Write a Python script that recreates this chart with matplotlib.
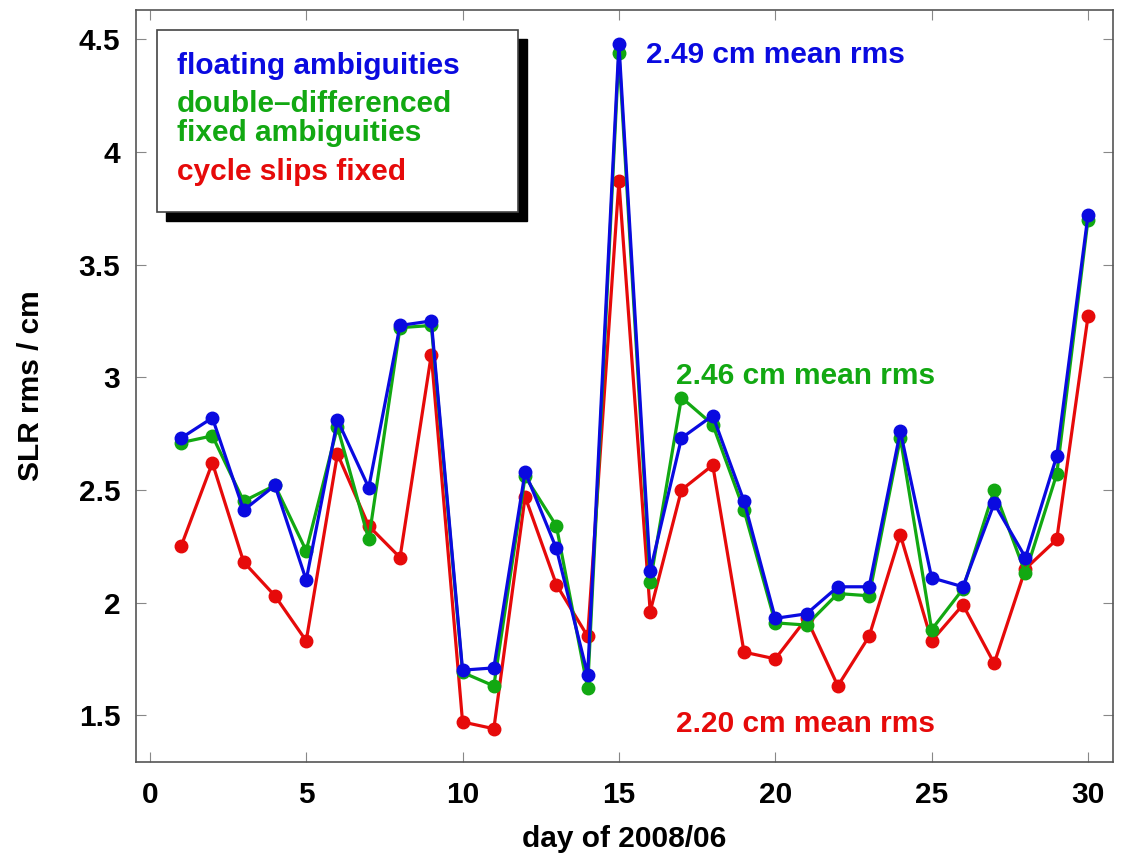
"""SLR rms per day, June 2008, for three ambiguity handling strategies."""

import matplotlib

matplotlib.use("Agg")
import matplotlib.pyplot as plt
from matplotlib.patches import Rectangle

plt.rcParams["font.family"] = ["Liberation Sans", "DejaVu Sans"]
plt.rcParams["font.weight"] = "bold"

days = list(range(1, 31))

rms_float = [2.73, 2.82, 2.41, 2.52, 2.10, 2.81, 2.51, 3.23, 3.25, 1.70,
             1.71, 2.58, 2.24, 1.68, 4.48, 2.14, 2.73, 2.83, 2.45, 1.93,
             1.95, 2.07, 2.07, 2.76, 2.11, 2.07, 2.44, 2.20, 2.65, 3.72]
rms_dd_fixed = [2.71, 2.74, 2.45, 2.52, 2.23, 2.78, 2.28, 3.22, 3.23, 1.69,
                1.63, 2.56, 2.34, 1.62, 4.44, 2.09, 2.91, 2.79, 2.41, 1.91,
                1.90, 2.04, 2.03, 2.73, 1.88, 2.06, 2.50, 2.13, 2.57, 3.70]
rms_slips_fixed = [2.25, 2.62, 2.18, 2.03, 1.83, 2.66, 2.34, 2.20, 3.10, 1.47,
                   1.44, 2.47, 2.08, 1.85, 3.87, 1.96, 2.50, 2.61, 1.78, 1.75,
                   1.93, 1.63, 1.85, 2.30, 1.83, 1.99, 1.73, 2.15, 2.28, 3.27]

series_labels = ["floating ambiguities", "double\u2013differenced\nfixed ambiguities", "cycle slips fixed"]
mean_labels = ["2.49 cm mean rms", "2.46 cm mean rms", "2.20 cm mean rms"]

x_ticks = [0, 5, 10, 15, 20, 25, 30]
y_ticks = [1.5, 2.0, 2.5, 3.0, 3.5, 4.0, 4.5]
y_tick_labels = ["1.5", "2", "2.5", "3", "3.5", "4", "4.5"]

BLUE = "#0a0ae0"
GREEN = "#12a812"
RED = "#e60a0a"
AXIS_GREY = "#555555"
FS = 21.5

fig = plt.figure(figsize=(11.22, 8.56), dpi=100)
ax = fig.add_axes([0.121, 0.110, 0.871, 0.878])

line_kw = dict(linewidth=2.3, marker="o", markersize=9)
ax.plot(days, rms_slips_fixed, color=RED, **line_kw)
ax.plot(days, rms_dd_fixed, color=GREEN, **line_kw)
ax.plot(days, rms_float, color=BLUE, **line_kw)

ax.set_xlim(-0.45, 30.8)
ax.set_ylim(1.293, 4.629)
ax.set_xticks(x_ticks)
ax.set_yticks(y_ticks)
ax.set_yticklabels(y_tick_labels)

for s in ax.spines.values():
    s.set_color(AXIS_GREY)
    s.set_linewidth(1.2)
ax.tick_params(axis="both", direction="in", length=7, width=0.8, color="#888888",
               top=True, right=True, labelsize=FS)
ax.tick_params(axis="x", pad=14)
ax.tick_params(axis="y", pad=11)

ax.set_xlabel("day of 2008/06", fontsize=FS, fontweight="bold", labelpad=11)
ax.set_ylabel("SLR rms / cm", fontsize=FS, fontweight="bold", labelpad=24)

# mean rms annotations
ax.text(15.86, 4.395, mean_labels[0], color=BLUE, fontsize=FS, fontweight="bold", va="baseline")
ax.text(16.82, 2.972, mean_labels[1], color=GREEN, fontsize=FS, fontweight="bold", va="baseline")
ax.text(16.82, 1.426, mean_labels[2], color=RED, fontsize=FS, fontweight="bold", va="baseline")

# legend box with drop shadow (figure coords)
bx, by, bw, bh = 157 / 1122, 1 - 212 / 856, 361 / 1122, 182 / 856
dx, dy = 9 / 1122, 9 / 856
fig.patches.append(Rectangle((bx + dx, by - dy), bw, bh, transform=fig.transFigure,
                             facecolor="black", edgecolor="black", zorder=5))
fig.patches.append(Rectangle((bx, by), bw, bh, transform=fig.transFigure,
                             facecolor="white", edgecolor="#444444", linewidth=1.2, zorder=6))

tx = 176.7 / 1122
fig.text(tx, 1 - 74 / 856, series_labels[0], color=BLUE, fontsize=FS, fontweight="bold",
         va="baseline", zorder=7)
fig.text(tx, 1 - 112.3 / 856, series_labels[1].split("\n")[0], color=GREEN, fontsize=FS,
         fontweight="bold", va="baseline", zorder=7)
fig.text(tx, 1 - 140.7 / 856, series_labels[1].split("\n")[1], color=GREEN, fontsize=FS,
         fontweight="bold", va="baseline", zorder=7)
fig.text(tx, 1 - 180 / 856, series_labels[2], color=RED, fontsize=FS, fontweight="bold",
         va="baseline", zorder=7)

fig.savefig("out.png", dpi=100)
plt.close(fig)
